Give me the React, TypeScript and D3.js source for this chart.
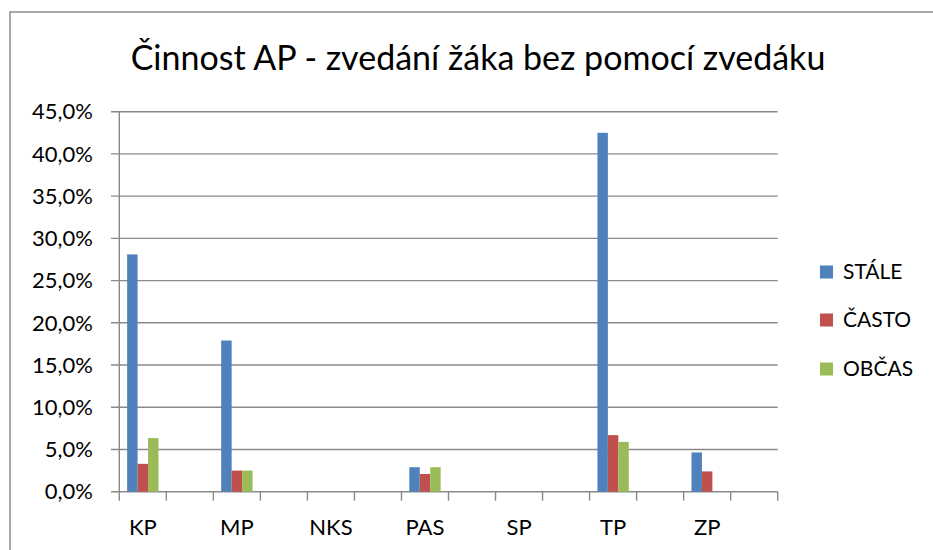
import React from "react";
import * as d3 from "d3";

const categories = ["KP", "MP", "NKS", "PAS", "SP", "TP", "ZP"];
const seriesNames = ["STÁLE", "ČASTO", "OBČAS"];
const stale = [0.281, 0.179, 0, 0.029, 0, 0.425, 0.0465];
const casto = [0.033, 0.025, 0, 0.021, 0, 0.067, 0.024];
const obcas = [0.0635, 0.025, 0, 0.029, 0, 0.059, 0];
const yTicks = [0, 0.05, 0.1, 0.15, 0.2, 0.25, 0.3, 0.35, 0.4, 0.45];
const colors = ["#4F81BD", "#C0504D", "#9BBB59"];
const title = "Činnost AP - zvedání žáka bez pomocí zvedáku";

const W = 933, H = 550;
const FONT = "Lato, 'Open Sans', sans-serif";

export default function App() {
  const seriesValues = [stale, casto, obcas];
  // Excel-like: every category followed by an unlabeled slot (labels shown every other slot)
  const slots = categories.flatMap((c) => [c, c + "_gap"]);
  const x = d3.scaleBand<string>().domain(slots).range([119.3, 777.7]).padding(0);
  const y = d3.scaleLinear().domain([0, 0.45]).range([491.7, 111.7]);
  const slotW = x.bandwidth();
  const xs = d3
    .scaleBand<string>()
    .domain(seriesNames)
    .range([slotW / 6, (slotW * 5) / 6])
    .padding(0);
  const fmt = (v: number) => (v * 100).toFixed(1).replace(".", ",") + "%";
  const gridColor = "#8a8a8a";
  const tickPositions = slots.map((s) => x(s)!).concat([x.range()[1]]);

  return (
    <svg
      width={W}
      height={H}
      style={{ position: "absolute", left: 0, top: 0, background: "#fff" }}
      fontFamily={FONT}
    >
      <rect x={0} y={0} width={W} height={H} fill="#fff" />
      {/* chart frame */}
      <rect x={10} y={12} width={W + 20} height={H + 20} fill="none" stroke="#8a8a8a" strokeWidth={1.5} />
      <text x={478} y={70} textAnchor="middle" fontSize={34} fill="#000">
        {title}
      </text>
      {/* gridlines */}
      {yTicks.map((t) => (
        <line key={"g" + t} x1={111} x2={777.7} y1={y(t)} y2={y(t)} stroke={gridColor} strokeWidth={1.4} />
      ))}
      {/* y axis */}
      <line x1={119.3} x2={119.3} y1={y(0.45)} y2={y(0)} stroke={gridColor} strokeWidth={1.4} />
      {yTicks.map((t) => (
        <text key={"yl" + t} x={93} y={y(t)} dy="0.35em" textAnchor="end" fontSize={22} fill="#000">
          {fmt(t)}
        </text>
      ))}
      {/* x axis ticks */}
      {tickPositions.map((p, i) => (
        <line key={"xt" + i} x1={p} x2={p} y1={y(0)} y2={y(0) + 9} stroke={gridColor} strokeWidth={1.4} />
      ))}
      {/* bars */}
      {categories.map((c, ci) => (
        <g key={c} transform={`translate(${x(c)},0)`}>
          {seriesValues.map((vals, si) =>
            vals[ci] > 0 ? (
              <rect
                key={si}
                x={xs(seriesNames[si])}
                y={y(vals[ci])}
                width={xs.bandwidth()}
                height={y(0) - y(vals[ci])}
                fill={colors[si]}
              />
            ) : null
          )}
        </g>
      ))}
      {/* x labels */}
      {categories.map((c) => (
        <text key={"xl" + c} x={x(c)! + slotW / 2} y={527} dy="0.35em" textAnchor="middle" fontSize={22} fill="#000">
          {c}
        </text>
      ))}
      {/* legend */}
      {seriesNames.map((s, i) => {
        const cy = [272, 320, 369][i];
        return (
          <g key={s}>
            <rect x={820} y={cy - 6.5} width={13} height={13} fill={colors[i]} />
            <text x={843} y={cy} dy="0.35em" fontSize={21} fill="#000">
              {s}
            </text>
          </g>
        );
      })}
    </svg>
  );
}
